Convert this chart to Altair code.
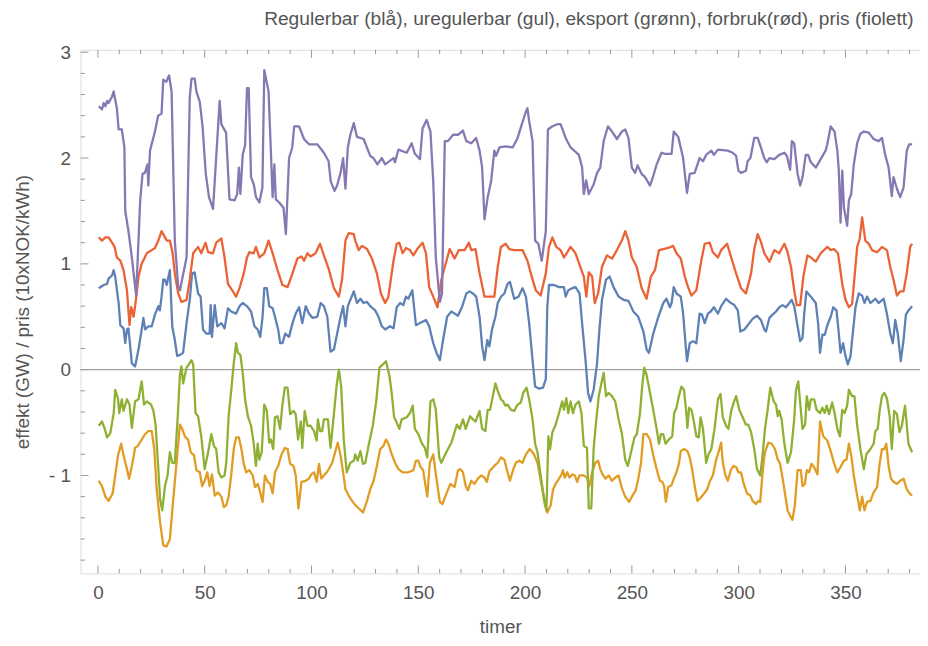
import altair as alt
import pandas as pd

# ---------------- data (hour, value) ----------------
regulerbar = [
    (0.4, 0.77), (2.7, 0.8), (4.3, 0.81), (5, 0.86), (6.6, 0.89), (7.4, 0.94), (8.1, 0.88), (9.7, 0.63),
    (10.5, 0.42), (12, 0.39), (12.8, 0.25), (13.6, 0.38), (14.3, 0.39), (15.9, 0.06), (17.4, 0.03), (19, 0.19),
    (20.5, 0.38), (21.3, 0.49), (22.1, 0.38), (23.6, 0.41), (25.2, 0.41), (26.7, 0.52), (28.3, 0.6), (29, 0.56),
    (29.8, 0.69), (30.6, 0.85), (31.4, 0.85), (32.2, 0.8), (33.7, 0.94), (34.8, 0.41), (36, 0.28), (37.1, 0.13),
    (38.4, 0.14), (39.9, 0.16), (41.5, 0.44), (43, 0.66), (44.1, 0.91), (45.3, 0.92), (46.9, 0.72), (48.1, 0.69),
    (49.2, 0.38), (50.8, 0.34), (52.3, 0.34), (52.8, 0.61), (53.4, 0.31), (54.7, 0.61), (55.9, 0.41), (57.8, 0.44),
    (59.3, 0.39), (60.9, 0.58), (62.4, 0.55), (64.7, 0.53), (66.3, 0.6), (67.8, 0.63), (69.8, 0.6), (71.7, 0.55),
    (73.3, 0.41), (74.8, 0.38), (76, 0.31), (77.1, 0.5), (77.9, 0.77), (79.1, 0.77), (80.2, 0.6), (81.8, 0.58),
    (82.9, 0.5), (84.4, 0.38), (85.3, 0.25), (86.4, 0.25), (87.7, 0.34), (89.5, 0.31), (91.1, 0.44), (92.6, 0.53),
    (94.2, 0.59), (95.7, 0.44), (97.3, 0.6), (98.8, 0.53), (100.4, 0.49), (102.7, 0.5), (104.3, 0.63), (105.8, 0.6),
    (107.4, 0.5), (108.9, 0.17), (110.5, 0.19), (112, 0.34), (113.6, 0.5), (114.8, 0.6), (115.9, 0.41), (117, 0.6),
    (118.2, 0.66), (119.8, 0.74), (121.3, 0.63), (122.9, 0.67), (124.4, 0.63), (126, 0.64), (127.5, 0.6), (129.8, 0.56),
    (131.4, 0.5), (132.9, 0.41), (134.5, 0.38), (136.8, 0.41), (138.4, 0.39), (139.9, 0.59), (141.5, 0.63), (143, 0.61),
    (144.2, 0.69), (145.3, 0.67), (147.2, 0.75), (148.9, 0.42), (150.8, 0.44), (153.6, 0.47), (155.1, 0.41), (157, 0.25),
    (158.5, 0.16), (160.1, 0.09), (161.6, 0.28), (163.5, 0.5), (165.5, 0.55), (167, 0.53), (168.6, 0.51), (170.6, 0.6),
    (172.5, 0.72), (174, 0.74), (175.6, 0.72), (177.1, 0.69), (178.7, 0.5), (179.9, 0.22), (181, 0.09), (182.3, 0.28),
    (183.3, 0.22), (184.5, 0.38), (186.1, 0.5), (187.2, 0.63), (188.7, 0.69), (190.3, 0.72), (191.8, 0.81), (192.9, 0.83),
    (194.9, 0.67), (196.9, 0.69), (198.8, 0.77), (200.4, 0.69), (201.9, 0.44), (203.5, 0.09), (204.7, -0.16), (206.6, -0.18),
    (208.4, -0.17), (209.7, -0.09), (210.4, 0.59), (211.2, 0.8), (213.5, 0.8), (215.9, 0.78), (218.2, 0.78), (219, 0.69),
    (220.2, 0.75), (222.1, 0.77), (223.6, 0.78), (225.5, 0.72), (226.7, 0.44), (228.3, 0.09), (229.5, -0.22), (230.6, -0.3),
    (232.1, -0.19), (233.7, 0.06), (234.8, 0.38), (236, 0.66), (237.9, 0.85), (239.6, 0.88), (241.4, 0.78), (243.8, 0.69),
    (246.1, 0.66), (248.4, 0.65), (250.7, 0.55), (253, 0.5), (255.4, 0.36), (256.9, 0.19), (258, 0.16), (260, 0.34),
    (262.4, 0.5), (264.7, 0.63), (266.2, 0.67), (267.8, 0.59), (268.6, 0.63), (269.6, 0.78), (270.9, 0.72), (272.9, 0.69),
    (274, 0.53), (275.1, 0.25), (275.8, 0.08), (277.1, 0.25), (278.6, 0.27), (280.2, 0.25), (281.7, 0.53), (282.8, 0.52),
    (284.1, 0.44), (285.6, 0.53), (286.9, 0.55), (288.4, 0.59), (290.3, 0.53), (291.8, 0.6), (294.1, 0.67), (295.7, 0.64),
    (298, 0.61), (299.6, 0.56), (300.8, 0.36), (302.7, 0.38), (305, 0.44), (306.5, 0.48), (308.6, 0.51), (310.4, 0.47),
    (312, 0.38), (312.8, 0.36), (314.4, 0.49), (315.9, 0.52), (317.5, 0.55), (319, 0.59), (320.6, 0.61), (322.1, 0.59),
    (323.7, 0.63), (324.8, 0.66), (326, 0.6), (327.6, 0.41), (328.8, 0.27), (329.9, 0.3), (330.7, 0.53), (331.7, 0.74),
    (333.8, 0.69), (336.1, 0.63), (337.2, 0.44), (338.1, 0.16), (339.2, 0.33), (340.3, 0.33), (341.5, 0.42), (343.1, 0.5),
    (344.3, 0.59), (345.8, 0.56), (346.9, 0.34), (347.7, 0.16), (348.9, 0.25), (350, 0.13), (351.1, 0.05), (352.4, 0.13),
    (353.1, 0.28), (354.7, 0.59), (356.2, 0.72), (357.8, 0.7), (358.9, 0.63), (360.1, 0.69), (361.7, 0.63), (364, 0.67),
    (365.5, 0.63), (367.9, 0.67), (369.4, 0.53), (371, 0.34), (372.2, 0.25), (373.3, 0.47), (374.5, 0.34), (375.9, 0.08),
    (377.2, 0.28), (378.3, 0.52), (379.5, 0.56), (381.2, 0.6),
]

uregulerbar = [
    (0.4, -1.05), (1.9, -1.1), (3.5, -1.2), (5, -1.24), (6.9, -1.17), (8.1, -1.0), (9.4, -0.81), (10.9, -0.7),
    (12, -0.81), (13.6, -0.94), (14.6, -1.03), (15.9, -0.91), (17.4, -0.74), (18.7, -0.72), (20.2, -0.67), (22.1, -0.61),
    (23.6, -0.58), (25.2, -0.58), (26.4, -0.75), (27.5, -1.13), (29.1, -1.44), (30.6, -1.66), (32.2, -1.67), (33.7, -1.6),
    (35.3, -1.22), (36.8, -0.88), (38.4, -0.52), (39.5, -0.56), (40.7, -0.63), (42.2, -0.66), (43.5, -0.78), (45, -0.81),
    (46.1, -0.95), (47.7, -0.97), (48.8, -1.1), (50, -1.05), (51.2, -0.97), (52.3, -1.1), (53.4, -0.99), (54.7, -1.19),
    (56.2, -1.16), (57.8, -1.2), (59, -1.3), (60.1, -1.28), (61.2, -1.2), (62.4, -1.0), (63.6, -0.75), (64.7, -0.64),
    (66, -0.64), (67.1, -0.74), (68.3, -0.89), (69.4, -0.97), (70.9, -0.95), (72.5, -1.0), (73.6, -1.11), (74.8, -1.08),
    (76, -1.16), (77.1, -1.25), (78.2, -1.0), (79.5, -1.06), (80.7, -1.08), (81.8, -1.17), (82.9, -0.97), (84.4, -0.91),
    (86, -0.8), (87.5, -0.74), (88.8, -0.75), (90, -0.89), (91.6, -0.91), (92.6, -1.0), (93.9, -1.31), (95.3, -1.06),
    (97.3, -1.05), (98.8, -1.03), (99.9, -0.99), (101.2, -0.97), (102.4, -1.06), (103.5, -0.89), (104.6, -1.03), (105.8, -1.0),
    (107.1, -0.97), (108.1, -0.94), (109.7, -0.88), (111.2, -0.77), (112.3, -0.69), (113.6, -0.81), (114.8, -0.97), (115.9, -1.13),
    (117.4, -1.19), (119, -1.24), (120.5, -1.28), (122.1, -1.31), (124.1, -1.35), (126, -1.24), (127.5, -1.13), (129.1, -1.05),
    (130.6, -0.91), (132.2, -0.75), (133.7, -0.72), (134.9, -0.66), (136, -0.7), (137.6, -0.8), (139.1, -0.88), (140.7, -0.94),
    (142.7, -0.97), (145.3, -0.97), (147.7, -0.95), (148.9, -0.86), (150, -0.86), (151.1, -0.92), (152.3, -0.95), (153.1, -1.06),
    (154.2, -1.2), (155.4, -0.88), (157, -0.8), (158.5, -1.03), (160.1, -1.25), (161.3, -1.27), (163.2, -1.17), (165, -1.08),
    (167, -1.11), (168.6, -0.95), (169.7, -0.94), (170.9, -0.97), (172.2, -1.1), (173.2, -1.14), (174.8, -1.05), (176.3, -1.08),
    (177.9, -1.03), (179.4, -1.0), (181, -1.02), (182.1, -1.06), (183.3, -0.96), (185.6, -0.91), (187.2, -0.88), (188.7, -0.83),
    (190.3, -0.85), (191.4, -0.94), (192.9, -1.05), (194.5, -0.94), (195.7, -0.88), (197.3, -0.86), (198.8, -0.88), (200.4, -0.8),
    (202.2, -0.75), (204.2, -0.8), (205.8, -0.88), (206.9, -1.0), (208.1, -1.13), (209.3, -1.28), (210.4, -1.35), (212, -1.28),
    (213.1, -1.13), (214.3, -1.08), (215.9, -1.03), (217.1, -0.99), (217.7, -0.95), (218.6, -1.02), (219.7, -0.97), (220.8, -1.02),
    (222.1, -0.99), (223.3, -1.0), (224.4, -1.06), (225.5, -1.0), (227.5, -1.0), (229, -1.02), (230.1, -1.1), (231.4, -0.97),
    (232.9, -0.88), (234.2, -0.86), (235.2, -0.94), (236.3, -0.99), (237.6, -1.03), (239.1, -1.0), (240.7, -1.05), (242.2, -1.02),
    (243.8, -1.0), (245.3, -1.12), (246.9, -1.2), (248.7, -1.25), (250.3, -1.19), (251.8, -1.14), (253, -1.03), (254.3, -0.88),
    (255.4, -0.61), (256.9, -0.61), (258.5, -0.66), (260, -0.81), (261.6, -0.94), (263.1, -1.05), (264.2, -1.06), (265.1, -1.1),
    (265.9, -1.25), (267, -1.11), (268.6, -1.09), (269.8, -1.02), (270.9, -0.97), (272, -0.89), (272.9, -0.77), (274.4, -0.75),
    (276, -0.77), (277.1, -0.83), (278.2, -0.94), (279.4, -1.1), (280.7, -1.24), (282.2, -1.21), (283.8, -1.17), (285.3, -1.13),
    (286.4, -1.06), (287.9, -1.0), (289.5, -0.85), (290.7, -0.77), (291.8, -0.69), (292.6, -0.88), (293.7, -0.99), (294.9, -1.05),
    (296.5, -0.94), (297.7, -0.91), (298.8, -0.92), (299.9, -0.97), (301.1, -0.97), (302.4, -1.08), (303.9, -1.17), (305.5, -1.19),
    (306.5, -1.24), (308.1, -1.27), (309.2, -1.24), (310.1, -1.25), (311.2, -0.97), (312.3, -0.78), (313.9, -0.69), (315.5, -0.7),
    (317, -0.75), (318.3, -0.85), (319.3, -0.88), (320.6, -1.03), (321.7, -1.17), (322.9, -1.33), (324.1, -1.38), (325.2, -1.42),
    (326.3, -1.28), (327.6, -0.95), (329.1, -0.95), (329.9, -1.1), (331, -1.08), (331.9, -0.95), (333, -0.97), (334.1, -0.89),
    (335.3, -0.92), (336.9, -0.99), (338.1, -0.49), (339.6, -0.63), (341.5, -0.67), (343.1, -0.77), (344.6, -0.88), (346.2, -0.97),
    (347.7, -0.92), (349.3, -0.86), (350.5, -0.85), (351.6, -0.7), (352.7, -0.81), (353.9, -1.0), (355.5, -1.19), (356.7, -1.33),
    (357.8, -1.2), (358.9, -1.33), (360.1, -1.25), (361.7, -1.24), (363.2, -1.16), (364.8, -1.11), (366, -0.89), (367.1, -0.75),
    (368.2, -0.75), (369.1, -0.7), (370.2, -0.91), (371.3, -1.03), (372.5, -1.06), (374.1, -1.08), (375.6, -1.05), (377.2, -1.03),
    (378.7, -1.13), (380, -1.17), (381.2, -1.19),
]

eksport = [
    (0.4, -0.53), (1.9, -0.49), (3.2, -0.56), (4.3, -0.64), (5.8, -0.6), (7.4, -0.41), (8.1, -0.19), (9.4, -0.27),
    (10, -0.41), (11.2, -0.28), (12, -0.39), (13.6, -0.28), (14.8, -0.33), (15.9, -0.55), (17.4, -0.3), (19, -0.28),
    (20.5, -0.11), (21.6, -0.33), (22.9, -0.3), (24.9, -0.33), (26, -0.39), (27, -0.52), (28.3, -0.94), (29.1, -1.22),
    (30.1, -1.33), (31.4, -1.1), (32.6, -1.0), (33.7, -0.78), (34.8, -0.88), (36, -0.88), (37.3, -0.47), (38.4, -0.05),
    (39.1, 0.03), (39.9, -0.13), (41.5, 0.02), (42.6, 0.05), (43.8, 0.09), (44.6, 0.05), (45.7, -0.41), (46.9, -0.44),
    (48.4, -0.63), (50, -0.94), (51.6, -0.78), (53.1, -0.61), (54.3, -0.72), (55.4, -0.75), (56.5, -0.97), (57.8, -1.02),
    (59.3, -1.0), (60.1, -0.88), (61.2, -0.44), (62.4, -0.2), (63.6, 0.06), (64.7, 0.25), (65.5, 0.16), (66.7, 0.14),
    (67.8, -0.03), (68.9, -0.28), (70.2, -0.44), (71.7, -0.53), (72.9, -0.69), (74, -0.91), (74.8, -0.7), (75.6, -0.85),
    (76.7, -0.78), (77.9, -0.33), (79.1, -0.39), (80.2, -0.69), (81, -0.66), (82.1, -0.75), (82.9, -0.45), (84.1, -0.44),
    (85.3, -0.56), (86.4, -0.33), (87.5, -0.17), (88.8, -0.17), (90, -0.42), (91.6, -0.39), (92.6, -0.42), (93.7, -0.66),
    (95, -0.49), (95.7, -0.74), (96.8, -0.39), (98.1, -0.53), (99.6, -0.53), (101.2, -0.58), (102.4, -0.67), (103, -0.47),
    (104, -0.58), (105, -0.58), (105.8, -0.47), (107.7, -0.47), (108.9, -0.74), (110.5, -0.42), (111.7, -0.16), (112.8, 0.0),
    (113.9, -0.16), (115.1, -0.66), (116.5, -0.97), (118.2, -0.88), (119.8, -0.86), (120.5, -0.8), (121.6, -0.86), (122.9, -0.77),
    (124.1, -0.89), (125.2, -0.88), (126.7, -0.72), (128.7, -0.53), (130.3, -0.3), (131.8, 0.02), (133.4, 0.05), (134.9, 0.08),
    (136.5, -0.06), (137.6, -0.23), (138.7, -0.45), (139.9, -0.5), (141.1, -0.56), (142.2, -0.47), (144.6, -0.45), (146.1, -0.41),
    (147.4, -0.34), (148.4, -0.56), (150, -0.61), (151.5, -0.69), (153.1, -0.74), (154.2, -0.83), (155.7, -0.3), (157, -0.28),
    (158.2, -0.38), (159.8, -0.83), (160.8, -0.88), (162.4, -0.81), (163.9, -0.75), (165.5, -0.69), (167, -0.59), (168.1, -0.52),
    (169.4, -0.56), (170.9, -0.47), (172.2, -0.56), (173.2, -0.5), (174.3, -0.44), (175.6, -0.47), (176.8, -0.49), (178.7, -0.39),
    (179.9, -0.56), (181.4, -0.58), (182.5, -0.38), (183.6, -0.38), (184.9, -0.25), (186.1, -0.13), (187.2, -0.2), (188.7, -0.28),
    (189.8, -0.3), (190.7, -0.34), (191.8, -0.33), (193.4, -0.38), (194.9, -0.39), (196.5, -0.33), (198, -0.31), (199.1, -0.22),
    (200.7, -0.17), (201.9, -0.28), (203.5, -0.47), (204.7, -0.7), (205.8, -0.78), (207.3, -1.0), (208.9, -1.22), (210, -1.33),
    (210.9, -0.63), (211.7, -0.75), (212.8, -0.59), (214.3, -0.52), (215.9, -0.41), (217.4, -0.3), (218.2, -0.38), (219.3, -0.27),
    (220.2, -0.41), (221.3, -0.3), (222.4, -0.41), (223.6, -0.33), (225.2, -0.3), (226.4, -0.41), (227.5, -0.72), (229, -0.74),
    (229.8, -1.31), (231, -1.31), (232.1, -0.75), (233.2, -0.5), (234.5, -0.25), (235.7, -0.13), (236.8, -0.03), (237.9, -0.25),
    (239.1, -0.22), (240.7, -0.25), (242.2, -0.3), (243.8, -0.47), (245.3, -0.6), (246.9, -0.85), (248.1, -0.91), (249.6, -0.78),
    (251.2, -0.64), (252.3, -0.61), (253.8, -0.41), (254.9, -0.14), (255.8, 0.02), (256.9, -0.05), (258.5, -0.22), (260, -0.38),
    (261.6, -0.56), (262.7, -0.7), (263.6, -0.61), (264.7, -0.61), (265.8, -0.7), (267.3, -0.66), (268.9, -0.63), (269.8, -0.41),
    (270.9, -0.36), (272, -0.25), (273.2, -0.16), (274.4, -0.19), (275.5, -0.41), (276, -0.55), (276.8, -0.36), (277.9, -0.38),
    (279.1, -0.5), (280.2, -0.63), (281.3, -0.64), (282.2, -0.45), (283.3, -0.56), (284.8, -0.88), (285.9, -0.8), (287.2, -0.75),
    (288.7, -0.56), (290.3, -0.28), (291.5, -0.23), (292.6, -0.45), (294.1, -0.53), (295.2, -0.56), (296.5, -0.39), (297.7, -0.31),
    (298.8, -0.25), (300.3, -0.38), (301.9, -0.45), (303.4, -0.52), (304.5, -0.52), (305.8, -0.59), (307.3, -0.75), (308.6, -0.94),
    (310.1, -1.0), (311.2, -0.81), (312.3, -0.56), (313.5, -0.39), (314.8, -0.17), (316.4, -0.3), (317.5, -0.33), (318.3, -0.44),
    (319, -0.39), (320.1, -0.47), (321.4, -0.7), (322.9, -0.88), (324.5, -0.78), (326, -0.47), (326.8, -0.2), (327.9, -0.11),
    (329.1, -0.38), (329.9, -0.56), (331.1, -0.52), (331.9, -0.25), (333, -0.38), (333.8, -0.28), (335.3, -0.28), (336.5, -0.38),
    (338.1, -0.41), (339.2, -0.36), (340.3, -0.41), (341.2, -0.34), (342.3, -0.42), (343.8, -0.31), (344.9, -0.41), (346.2, -0.56),
    (347.4, -0.63), (348.5, -0.38), (349.6, -0.41), (350.8, -0.34), (351.6, -0.19), (353.1, -0.25), (354.2, -0.25), (355.5, -0.53),
    (357, -0.75), (358.6, -0.94), (359.8, -0.8), (361.7, -0.75), (363.2, -0.7), (364, -0.58), (365.1, -0.56), (366, -0.39),
    (367.1, -0.25), (368.2, -0.22), (369.4, -0.27), (370.7, -0.44), (371.7, -0.75), (372.8, -0.39), (374.1, -0.42), (375.3, -0.59),
    (376.4, -0.53), (377.9, -0.34), (379.5, -0.7), (381.2, -0.78),
]

forbruk = [
    (0.4, 1.25), (1.9, 1.22), (3.5, 1.25), (5, 1.25), (6.6, 1.2), (7.8, 1.16), (8.9, 1.06), (10.5, 1.03),
    (12, 0.94), (13.6, 0.75), (14.8, 0.42), (15.6, 0.59), (16.7, 0.5), (17.8, 0.66), (19, 0.88), (20.5, 1.0),
    (22.9, 1.1), (25.2, 1.13), (26.7, 1.15), (28.3, 1.22), (29.8, 1.31), (31.4, 1.25), (32.2, 1.22), (33.7, 1.22),
    (35, 1.1), (36, 0.91), (37.6, 0.72), (39.1, 0.64), (41.5, 0.66), (43, 0.85), (44.6, 1.1), (46.9, 1.16),
    (48.4, 1.1), (50.4, 1.2), (51.6, 1.11), (53.9, 1.1), (55.4, 1.2), (57.8, 1.24), (59.3, 1.06), (60.9, 0.81),
    (63.2, 0.74), (64.7, 0.69), (66.3, 0.77), (68.3, 0.91), (69.8, 1.06), (70.9, 1.11), (72.9, 1.1), (74, 1.16),
    (75.6, 1.06), (77.9, 1.1), (79.9, 1.22), (81.8, 1.1), (84.1, 0.94), (86.4, 0.8), (88.8, 0.78), (91.1, 0.91),
    (93.4, 1.05), (95.3, 1.07), (96.5, 1.03), (98.1, 1.1), (99.6, 1.07), (101.9, 1.1), (104, 1.19), (105.8, 1.08),
    (108.1, 0.95), (110.5, 0.77), (112.8, 0.69), (114.3, 0.85), (115.9, 1.22), (117.4, 1.29), (119.8, 1.28), (120.5, 1.22),
    (122.1, 1.13), (123.6, 1.17), (126, 1.14), (128.3, 1.05), (130.6, 0.91), (132.5, 0.72), (134.5, 0.63), (136, 0.69),
    (138.4, 1.03), (139.9, 1.19), (141.1, 1.2), (142.7, 1.1), (144.2, 1.15), (146.1, 1.13), (147.7, 1.08), (149.5, 1.14),
    (152, 1.2), (153.6, 1.1), (155.1, 0.78), (157, 0.69), (159, 0.59), (160.8, 0.85), (162.4, 0.97), (164.7, 1.14),
    (167, 1.05), (169, 1.13), (171.7, 1.13), (173.7, 1.2), (174.8, 1.13), (176.8, 1.14), (178.7, 0.91), (181, 0.69),
    (183.5, 0.69), (185.6, 0.69), (187.2, 0.97), (188.7, 1.16), (191, 1.19), (192.6, 1.14), (194.9, 1.13), (196.5, 1.13),
    (198.8, 1.13), (201.1, 1.03), (202.7, 0.91), (205, 0.75), (207.3, 0.7), (209.7, 0.91), (211.2, 1.16), (212.8, 1.25),
    (214.6, 1.16), (216.6, 1.13), (218.2, 1.06), (221.3, 1.16), (223.6, 1.1), (225.9, 0.97), (227.5, 0.88), (228.7, 0.69),
    (229.8, 0.92), (231.4, 0.88), (232.6, 0.63), (234.2, 0.72), (236, 0.97), (238.3, 1.08), (240.7, 1.05), (243, 1.13),
    (245.3, 1.22), (246.9, 1.31), (248.4, 1.22), (250, 1.06), (252.3, 0.97), (254.6, 0.77), (256.9, 0.67), (258.9, 0.88),
    (260.8, 0.94), (262.7, 1.13), (264.7, 1.14), (267, 1.15), (269.3, 1.17), (270.9, 1.1), (272.9, 1.05), (274.8, 0.88),
    (276.3, 0.78), (277.9, 0.7), (280.2, 0.75), (282.5, 1.03), (284.1, 1.19), (286.4, 1.2), (287.9, 1.11), (290.3, 1.06),
    (291.8, 1.13), (294.6, 1.19), (296.5, 1.06), (298.8, 0.91), (301.1, 0.77), (303.4, 0.72), (305.8, 0.91), (307.3, 1.14),
    (308.9, 1.28), (310.4, 1.21), (312, 1.1), (314.4, 1.02), (316.7, 1.13), (319, 1.1), (321.4, 1.19), (322.9, 1.11),
    (324.5, 0.97), (326, 0.75), (327.2, 0.61), (328.8, 0.61), (330.3, 0.88), (332.2, 1.08), (333.8, 1.06), (336.1, 1.02),
    (338.4, 1.1), (341.5, 1.16), (343.1, 1.13), (344.6, 1.14), (346.5, 1.1), (348.5, 0.81), (350, 0.66), (351.6, 0.59),
    (353.1, 0.62), (355.5, 1.16), (356.7, 1.24), (357.8, 1.44), (359.3, 1.22), (360.9, 1.19), (362.4, 1.13), (364.8, 1.11),
    (367.1, 1.16), (369.4, 1.13), (371, 0.97), (372.5, 0.85), (374.1, 0.7), (375.6, 0.74), (377.2, 0.74), (378.7, 0.91),
    (380.3, 1.16), (381.2, 1.19),
]

pris = [
    (0.4, 2.49), (1.9, 2.46), (2.7, 2.52), (3.5, 2.49), (4.3, 2.54), (5, 2.52), (5.8, 2.55), (6.6, 2.58),
    (7.4, 2.63), (8.1, 2.55), (8.9, 2.47), (9.7, 2.27), (11.2, 2.27), (12.4, 2.1), (12.8, 1.5), (14.3, 1.31),
    (15.9, 1.06), (17.9, 0.7), (19.8, 1.6), (20.9, 1.85), (22, 1.86), (23.2, 1.94), (23.6, 1.74), (24.4, 2.07),
    (26.7, 2.25), (28.2, 2.4), (29.8, 2.42), (30.6, 2.74), (32, 2.72), (33.3, 2.78), (34.5, 2.63), (36, 1.22),
    (37.6, 0.78), (38.4, 0.75), (39.9, 0.9), (41.5, 1.06), (43, 2.57), (43.8, 2.75), (45.3, 2.75), (46.1, 2.63),
    (47.7, 2.53), (49, 2.3), (50.5, 1.85), (52, 1.63), (53.9, 1.52), (57, 2.54), (57.8, 2.32), (60, 2.24),
    (61.6, 1.61), (64, 1.6), (65.2, 1.66), (66, 1.91), (66.7, 1.66), (67.8, 2.03), (68.9, 2.12), (69.8, 2.66),
    (70.6, 2.66), (71.7, 1.82), (73, 1.75), (74, 1.63), (75.6, 1.58), (77, 1.72), (77.9, 2.83), (79.9, 2.63),
    (81.8, 1.63), (82.6, 1.94), (83.3, 1.61), (84.9, 1.58), (86.9, 1.53), (88, 1.28), (89.5, 2.0), (91, 2.1),
    (91.9, 2.3), (94.2, 2.3), (96.5, 2.18), (98.8, 2.13), (102.7, 2.13), (105.8, 2.05), (108, 1.97), (109, 1.78),
    (110.8, 1.69), (112, 1.74), (113.6, 1.86), (114.8, 2.0), (115.9, 1.71), (117, 2.1), (118.2, 2.22), (119.8, 2.33),
    (121.3, 2.2), (124.4, 2.18), (127.5, 2.02), (129, 2.0), (130.9, 1.94), (132.9, 2.0), (134.5, 1.94), (138.4, 2.0),
    (139.1, 1.96), (140.7, 2.08), (144.6, 2.05), (146.9, 2.14), (148.4, 2.04), (150.8, 1.99), (152, 2.28), (153.9, 2.36),
    (155.7, 2.25), (157, 1.78), (158.2, 1.06), (160.1, 0.64), (161.1, 0.72), (162.4, 2.16), (163.9, 2.16), (166.3, 2.22),
    (168.6, 2.22), (170.9, 2.26), (172.5, 2.16), (174.8, 2.14), (177.1, 2.19), (178.7, 2.07), (179.9, 1.91), (181, 1.42),
    (182.5, 1.63), (184.1, 1.78), (185.6, 2.07), (186.4, 2.02), (188, 2.1), (191, 2.11), (194.2, 2.1), (196.5, 2.19),
    (198.5, 2.32), (200.4, 2.44), (201.1, 2.47), (201.9, 2.35), (203.5, 2.16), (204.7, 1.22), (206.2, 1.19), (207.8, 1.03),
    (209.7, 1.31), (210.7, 2.27), (212.8, 2.3), (215.1, 2.32), (216.6, 2.32), (219, 2.19), (221.3, 2.1), (225.2, 2.03),
    (226.7, 1.91), (227.5, 1.66), (228.6, 1.79), (229.8, 1.66), (232.1, 1.75), (233.7, 1.86), (235.2, 1.91), (236.8, 2.16),
    (238.8, 2.3), (240.7, 2.25), (243, 2.18), (245.3, 2.25), (246.9, 2.27), (248.4, 2.19), (250, 1.91), (251.5, 1.86),
    (252.7, 1.93), (254.6, 1.85), (256.2, 1.82), (258.5, 1.74), (260, 1.83), (261.6, 1.94), (263.9, 2.05), (265.5, 2.04),
    (268.6, 2.04), (269.6, 2.25), (271.7, 2.2), (274, 2.0), (275.2, 1.78), (275.8, 1.67), (277.1, 1.85), (279.4, 1.86),
    (281.7, 2.0), (283.3, 1.97), (284.8, 2.03), (287.2, 2.07), (288.4, 2.03), (290.3, 2.08), (294.9, 2.07), (297.2, 2.05),
    (298.8, 2.02), (299.9, 1.88), (301.1, 1.86), (303.4, 1.88), (304.2, 1.97), (305.5, 2.0), (307.3, 2.19), (308.9, 2.19),
    (310.4, 2.1), (312, 2.0), (313.1, 1.96), (314.4, 2.0), (316.7, 1.99), (319, 2.03), (321.4, 2.05), (322.6, 2.02),
    (324.1, 1.89), (324.9, 2.16), (326, 2.14), (327.6, 1.85), (328.8, 1.74), (329.9, 1.82), (331.4, 2.03), (332.5, 2.03),
    (333.8, 1.96), (336.1, 1.91), (338.4, 1.99), (340.7, 2.07), (341.5, 2.13), (343.1, 2.3), (344.9, 2.25), (346.2, 2.07),
    (346.9, 1.88), (347.7, 1.39), (348.5, 1.88), (349.3, 1.53), (350.8, 1.36), (351.6, 1.6), (352.7, 1.66), (353.9, 1.94),
    (355.5, 2.14), (357, 2.23), (358.6, 2.25), (360.9, 2.24), (363.2, 2.18), (365.5, 2.16), (367.1, 2.19), (368.6, 2.03),
    (370.2, 1.91), (371.7, 1.64), (372.5, 1.82), (374.1, 1.71), (375.6, 1.63), (377.2, 1.72), (378.7, 2.07), (379.8, 2.13),
    (381.2, 2.13),
]

x_major = [0, 50, 100, 150, 200, 250, 300, 350]
x_minor = [10, 20, 30, 40, 60, 70, 80, 90, 110, 120, 130, 140, 160, 170, 180, 190, 210, 220, 230, 240,
           260, 270, 280, 290, 310, 320, 330, 340, 360, 370, 380]
y_major = [-1, 0, 1, 2, 3]
y_minor = [-1.8, -1.6, -1.4, -1.2, -0.8, -0.6, -0.4, -0.2, 0.2, 0.4, 0.6, 0.8, 1.2, 1.4, 1.6, 1.8,
           2.2, 2.4, 2.6, 2.8]

title_text = "Regulerbar (blå), uregulerbar (gul), eksport (grønn), forbruk(rød), pris (fiolett)"

# ---------------- styling ----------------
W, H = 845, 527
FONT = "Liberation Sans"
LABEL_COLOR = "#555555"
FRAME_COLOR = "#999999"
MAJOR_LEN, MINOR_LEN = 8, 4.5

x_scale = alt.Scale(domain=[-8.14, 384.9], nice=False, zero=False)
y_scale = alt.Scale(domain=[-1.925, 3.023], nice=False, zero=False)

x_axis = alt.Axis(values=x_major, title="timer", ticks=False, domain=False, grid=False,
                  labelFont=FONT, labelFontSize=19, labelColor=LABEL_COLOR, labelPadding=10,
                  titleFont=FONT, titleFontSize=19, titleFontWeight="normal", titleColor=LABEL_COLOR,
                  titlePadding=16)
y_axis = alt.Axis(values=y_major, title="effekt (GW) / pris (10xNOK/kWh)", ticks=False, domain=False,
                  grid=False, labelFont=FONT, labelFontSize=19, labelColor=LABEL_COLOR, labelPadding=10,
                  labelExpr="datum.value < 0 ? '- ' + (-datum.value) : '' + datum.value",
                  titleFont=FONT, titleFontSize=19, titleFontWeight="normal", titleColor=LABEL_COLOR,
                  titlePadding=16)

series = [
    (regulerbar, "#5E81B5"),
    (uregulerbar, "#E19C24"),
    (eksport, "#8FB032"),
    (forbruk, "#EB6235"),
    (pris, "#8778B3"),
]

X = lambda f: alt.X(f, scale=x_scale, axis=x_axis)
Y = lambda f: alt.Y(f, scale=y_scale, axis=y_axis)

layers = []
zero = alt.Chart(pd.DataFrame({"null": [0]})).mark_rule(color="#8c8c8c", strokeWidth=1).encode(
    y=Y("null:Q"))
layers.append(zero)

for pairs, col in series:
    df = pd.DataFrame(pairs, columns=["timer", "verdi"])
    layers.append(
        alt.Chart(df).mark_line(color=col, strokeWidth=2.3, strokeJoin="round").encode(
            x=X("timer:Q"), y=Y("verdi:Q"))
    )

def yticks(vals, length):
    d = pd.DataFrame({"v": vals})
    return alt.Chart(d).mark_rule(color=FRAME_COLOR, strokeWidth=1).encode(
        y=Y("v:Q"), x=alt.value(0), x2=alt.value(length))

def xticks(vals, length, top):
    d = pd.DataFrame({"v": vals})
    if top:
        yy, yy2 = alt.value(0), alt.value(length)
    else:
        yy, yy2 = alt.value(H), alt.value(H - length)
    return alt.Chart(d).mark_rule(color=FRAME_COLOR, strokeWidth=1).encode(
        x=X("v:Q"), y=yy, y2=yy2)

layers += [
    yticks(y_major, MAJOR_LEN), yticks(y_minor, MINOR_LEN),
    xticks(x_major, MAJOR_LEN, False), xticks(x_minor, MINOR_LEN, False),
    xticks(x_major, MAJOR_LEN, True), xticks(x_minor, MINOR_LEN, True),
]

chart = alt.layer(*layers).properties(
    width=W, height=H,
    autosize=alt.AutoSizeParams(type="none"),
    padding={"left": 73, "top": 40, "right": 0, "bottom": 63},
    title=alt.Title(title_text, anchor="end", fontSize=19.3, font=FONT, fontWeight="normal",
                    color=LABEL_COLOR, offset=14, dx=-7),
).configure_view(stroke=FRAME_COLOR, strokeWidth=1).configure(background="white")

chart.save("out.html", embed_options={"renderer": "svg", "actions": False})
